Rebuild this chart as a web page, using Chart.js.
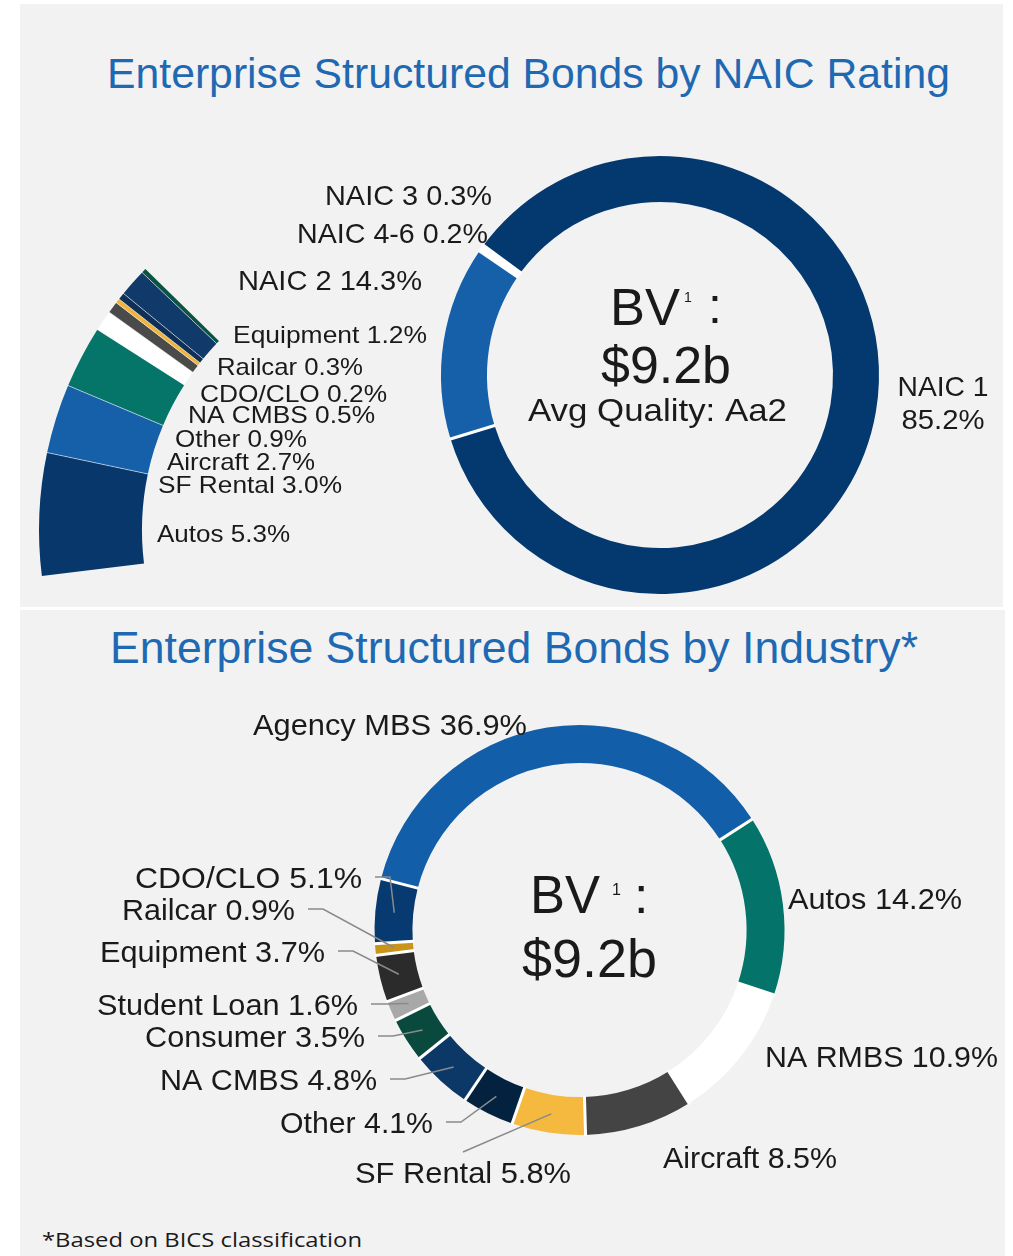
<!DOCTYPE html>
<html>
<head>
<meta charset="utf-8">
<script src="https://cdn.jsdelivr.net/npm/chart.js@4.4.1/dist/chart.umd.min.js"></script>
<style>
  html, body { margin: 0; padding: 0; background: #ffffff; }
  #page { position: relative; width: 1013px; height: 1256px; overflow: hidden; background: #ffffff; }
  .panel { position: absolute; background: #f2f2f2; }
  canvas { position: absolute; left: 0; top: 0; }
  .txt { position: absolute; white-space: nowrap; line-height: 1; transform-origin: 0 0; }
  .title { font-family: "Liberation Sans", Arial, Helvetica, sans-serif; color: #1f69b3; }
  #foot { font-family: "Open Sans", "Noto Sans", sans-serif; color: #1a1a1a; }
</style>
</head>
<body>
<div id="page">
  <div class="panel" style="left:20px;top:4px;width:983px;height:603px"></div>
  <div class="panel" style="left:20px;top:610px;width:985px;height:646px"></div>
  <div class="txt title" id="t1">Enterprise Structured Bonds by NAIC Rating</div>
  <div class="txt title" id="t2">Enterprise Structured Bonds by Industry*</div>
  <div class="txt" id="foot">*Based on BICS classification</div>
  <canvas id="cMain" width="1013" height="1256"></canvas>
  <canvas id="cSub" width="1013" height="1256"></canvas>
  <canvas id="cInd" width="1013" height="1256"></canvas>
</div>
<script>
// ---------------- DATA ----------------
const naicLabels = ['NAIC 1', 'NAIC 2', 'NAIC 3', 'NAIC 4-6'];
const naicValues = [85.2, 14.3, 0.3, 0.2];

// breakdown of NAIC 2 by industry (bottom to top of the exploded arc)
const naic2Labels = ['Autos', 'SF Rental', 'Aircraft', 'Other', 'NA CMBS', 'CDO/CLO', 'Railcar', 'Equipment', ''];
const naic2Values = [5.3, 3.0, 2.7, 0.9, 0.5, 0.2, 0.3, 1.2, 0.2];

const industryLabels = ['Agency MBS', 'Autos', 'NA RMBS', 'Aircraft', 'SF Rental', 'Other', 'NA CMBS',
                        'Consumer', 'Student Loan', 'Equipment', 'Railcar', 'CDO/CLO'];
const industryValues = [36.9, 14.2, 10.9, 8.5, 5.8, 4.1, 4.8, 3.5, 1.6, 3.7, 0.9, 5.1];

const titleTop = 'Enterprise Structured Bonds by NAIC Rating';
const titleBottom = 'Enterprise Structured Bonds by Industry*';
const bvText = 'BV';
const bvSup = '1';
const bvAmount = '$9.2b';
const avgQuality = 'Avg Quality: Aa2';

// ---------------- STYLE / LAYOUT ----------------
const W = 1013, H = 1256;
const FONT = '"Liberation Sans", Arial, Helvetica, sans-serif';
const TEXT = '#1a1a1a';

const naicColors = ['#04396f', '#1660aa', '#ffffff', '#ffffff'];
const naic2Colors = ['#07376b', '#1660aa', '#05756a', '#ffffff', '#4a4a4a', '#f0b43c', '#0f2f57', '#0f3a69', '#0b5345'];
const industryColors = ['#135ea8', '#04736a', '#ffffff', '#444444', '#f4b93e', '#03223f', '#0c3867',
                        '#0a4a3e', '#a8a8a8', '#2b2b2b', '#c8941a', '#063a71'];

const mainGeom = { cx: 660, cy: 375, r: 219, cutout: '79%', rotation: 306.3 };
const subGeom  = { cx: 412, cy: 530, r: 373, cutout: '72.4%', rotation: 262.9 };
const indGeom  = { cx: 579.5, cy: 930, r: 205, cutout: '81.5%', rotation: 284.5 };

// text placement: x (left), baseline y, font size, fitted width
const naicLabelPos = [
  { x: 943, y: 396, size: 28, w: 91, w2: 83, split: true, align: 'center' },
  { x: 238, y: 290, size: 28, w: 184 },
  { x: 325, y: 205, size: 28, w: 167 },
  { x: 297, y: 243, size: 28, w: 191 }
];
const naic2LabelPos = [
  { x: 157, y: 542, size: 24, w: 133 },
  { x: 158, y: 493, size: 24, w: 184 },
  { x: 167, y: 470, size: 24, w: 148 },
  { x: 175, y: 447, size: 24, w: 132 },
  { x: 188, y: 423, size: 24, w: 187 },
  { x: 200, y: 402, size: 24, w: 187 },
  { x: 217, y: 375, size: 24, w: 146 },
  { x: 233, y: 343, size: 24, w: 194 },
  null
];
const industryLabelPos = [
  { x: 253, y: 735, size: 30, w: 274 },
  { x: 788, y: 909, size: 30, w: 174 },
  { x: 765, y: 1067, size: 30, w: 233 },
  { x: 663, y: 1168, size: 30, w: 174 },
  { x: 355, y: 1183, size: 30, w: 216, leader: { sx: 463, sy: 1152 } },
  { x: 280, y: 1133, size: 30, w: 153, leader: 'side' },
  { x: 160, y: 1090, size: 30, w: 217, leader: 'side' },
  { x: 145, y: 1047, size: 30, w: 220, leader: 'side' },
  { x: 97,  y: 1015, size: 30, w: 261, leader: 'side' },
  { x: 100, y: 962,  size: 30, w: 225, leader: 'side' },
  { x: 122, y: 920,  size: 30, w: 173, leader: 'side' },
  { x: 135, y: 888,  size: 30, w: 227, leader: 'side' }
];

const centerTop = [
  { t: bvText, x: 610, y: 325, size: 52, w: 70 },
  { t: bvSup, x: 684, y: 302, size: 14 },
  { t: ':', x: 708, y: 323, size: 50 },
  { t: bvAmount, x: 601, y: 383, size: 52, w: 130 },
  { t: avgQuality, x: 528, y: 421, size: 32, w: 259 }
];
const centerBottom = [
  { t: bvText, x: 530, y: 913, size: 53, w: 70 },
  { t: bvSup, x: 612, y: 895, size: 16 },
  { t: ':', x: 634, y: 913, size: 52 },
  { t: bvAmount, x: 522, y: 977, size: 54, w: 135 }
];

// ---------------- HELPERS ----------------
function fmt(label, v) { return label + ' ' + v.toFixed(1) + '%'; }

function drawFit(ctx, text, x, y, size, w, align) {
  ctx.save();
  ctx.font = size + 'px ' + FONT;
  ctx.fillStyle = TEXT;
  ctx.textBaseline = 'alphabetic';
  ctx.textAlign = 'left';
  const m = ctx.measureText(text).width;
  const sx = w ? w / m : 1;
  const realW = m * sx;
  const left = align === 'center' ? x - realW / 2 : x;
  ctx.translate(left, y);
  ctx.scale(sx, 1);
  ctx.fillText(text, 0, 0);
  ctx.restore();
  return left + realW;
}

function paddingFor(g) {
  const p = { left: 0, right: 0, top: 0, bottom: 0 };
  if (2 * g.cx > W) p.left = 2 * g.cx - W; else p.right = W - 2 * g.cx;
  if (2 * g.cy > H) p.top = 2 * g.cy - H; else p.bottom = H - 2 * g.cy;
  return p;
}

const separators = {
  id: 'separators',
  afterDatasetsDraw(chart, args, opts) {
    const meta = chart.getDatasetMeta(0);
    const ctx = chart.ctx;
    ctx.save();
    ctx.strokeStyle = opts.color;
    ctx.lineWidth = opts.width;
    meta.data.forEach((arc, i) => {
      if (opts.skip && opts.skip.indexOf(i) >= 0) return;
      const p = arc.getProps(['x', 'y', 'startAngle', 'innerRadius', 'outerRadius'], true);
      const c = Math.cos(p.startAngle), s = Math.sin(p.startAngle);
      ctx.beginPath();
      ctx.moveTo(p.x + c * (p.innerRadius - 1), p.y + s * (p.innerRadius - 1));
      ctx.lineTo(p.x + c * (p.outerRadius + 1), p.y + s * (p.outerRadius + 1));
      ctx.stroke();
    });
    ctx.restore();
  }
};

const textLabels = {
  id: 'textLabels',
  afterDraw(chart, args, opts) {
    const ctx = chart.ctx;
    const meta = chart.getDatasetMeta(0);
    const labels = opts.labels || [];
    const values = opts.values || [];
    (opts.pos || []).forEach((p, i) => {
      if (!p || !labels[i]) return;
      if (p.split) {
        drawFit(ctx, labels[i], p.x, p.y, p.size, p.w, 'center');
        drawFit(ctx, values[i].toFixed(1) + '%', p.x, p.y + 33, p.size, p.w2, 'center');
        return;
      }
      const right = drawFit(ctx, fmt(labels[i], values[i]), p.x, p.y, p.size, p.w, p.align);
      if (p.leader) {
        const tp = meta.data[i].tooltipPosition(true);
        ctx.save();
        ctx.strokeStyle = '#8a8a8a';
        ctx.lineWidth = 1.5;
        ctx.beginPath();
        if (p.leader === 'side') {
          const sy = p.y - 11;
          ctx.moveTo(right + 13, sy);
          ctx.lineTo(right + 28, sy);
        } else {
          ctx.moveTo(p.leader.sx, p.leader.sy);
        }
        ctx.lineTo(tp.x, tp.y);
        ctx.stroke();
        ctx.restore();
      }
    });
    (opts.center || []).forEach(c => drawFit(ctx, c.t, c.x, c.y, c.size, c.w));
  }
};

function baseOptions(g, sepOpts, labelOpts) {
  return {
    responsive: false,
    animation: false,
    rotation: g.rotation,
    radius: g.r,
    cutout: g.cutout,
    layout: { padding: paddingFor(g) },
    events: [],
    plugins: {
      legend: { display: false },
      tooltip: { enabled: false },
      separators: sepOpts,
      textLabels: labelOpts
    }
  };
}

// ---------------- CHARTS ----------------
new Chart(document.getElementById('cMain'), {
  type: 'doughnut',
  data: {
    labels: naicLabels,
    datasets: [{ data: naicValues, backgroundColor: naicColors, borderWidth: 0, clip: false }]
  },
  options: baseOptions(mainGeom,
    { color: '#ffffff', width: 3 },
    { labels: naicLabels, values: naicValues, pos: naicLabelPos, center: centerTop }),
  plugins: [separators, textLabels]
});

const naic2Total = naicValues.reduce((a, b) => a + b, 0);
const naic2Rest = naic2Total - naic2Values.reduce((a, b) => a + b, 0);
new Chart(document.getElementById('cSub'), {
  type: 'doughnut',
  data: {
    labels: naic2Labels.concat(['']),
    datasets: [{
      data: naic2Values.concat([naic2Rest]),
      backgroundColor: naic2Colors.concat(['rgba(0,0,0,0)']),
      borderWidth: 0, clip: false
    }]
  },
  options: baseOptions(subGeom,
    { color: 'rgba(255,255,255,0.55)', width: 1, skip: [0, naic2Values.length] },
    { labels: naic2Labels, values: naic2Values, pos: naic2LabelPos }),
  plugins: [separators, textLabels]
});

new Chart(document.getElementById('cInd'), {
  type: 'doughnut',
  data: {
    labels: industryLabels,
    datasets: [{ data: industryValues, backgroundColor: industryColors, borderWidth: 0, clip: false }]
  },
  options: baseOptions(indGeom,
    { color: '#ffffff', width: 3 },
    { labels: industryLabels, values: industryValues, pos: industryLabelPos, center: centerBottom }),
  plugins: [separators, textLabels]
});

// ---------------- HTML TEXT (titles, footnote) ----------------
const htmlText = [
  { id: 't1', text: titleTop, x: 107, base: 89, size: 43, w: 843 },
  { id: 't2', text: titleBottom, x: 110, base: 664, size: 44, w: 808 },
  { id: 'foot', text: '*Based on BICS classification', x: 42, base: 1247, size: 20, w: 320 }
];
function placeHtml() {
  htmlText.forEach(h => {
    const el = document.getElementById(h.id);
    el.textContent = h.text;
    el.style.fontSize = h.size + 'px';
    el.style.left = h.x + 'px';
    el.style.top = (h.base - 0.86 * h.size) + 'px';
    el.style.transform = 'none';
    const wNow = el.getBoundingClientRect().width;
    el.style.transform = 'scaleX(' + (h.w / wNow) + ')';
  });
}
placeHtml();
if (document.fonts && document.fonts.ready) document.fonts.ready.then(placeHtml);
</script>
</body>
</html>
